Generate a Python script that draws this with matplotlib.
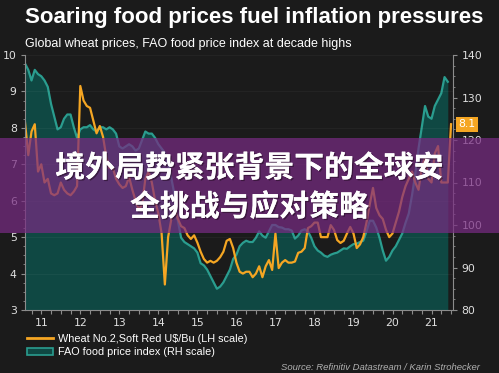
import matplotlib
matplotlib.use('Agg')
import matplotlib.pyplot as plt
import numpy as np
import pandas as pd
from matplotlib.patches import Rectangle, Patch
from matplotlib.lines import Line2D
import matplotlib.patheffects as pe
from matplotlib.ticker import MultipleLocator

# ---------------- data ----------------
fao_start = '2011-02-01'
wheat_start = '2011-02-01'

fao_index = [
    138, 136.5, 134, 136.5, 135.5, 135, 134, 132.5, 128.5, 125.5, 122.5,          # 2011 Feb-Dec
    123, 125, 126, 126, 123, 120.5, 122.5, 123, 123, 123.5, 122.5, 122,           # 2012
    123, 123, 122.5, 123, 122.5, 121.5, 118.5, 118, 118.5, 119, 118.5, 117.5,     # 2013
    118, 120, 122, 121.5, 121.5, 120.5, 119, 118, 117, 114.5, 111, 107,           # 2014
    101, 97, 96, 95.5, 95, 94.5, 93.5, 91, 90.5, 89.5, 88, 86.5,                  # 2015
    85, 85.5, 86.5, 88, 89.5, 92, 93, 95, 95.8, 96.3, 96, 96,                     # 2016
    97, 98.5, 97.5, 97, 98.5, 100, 100, 99.5, 99.4, 99, 99, 98.7,                 # 2017
    96.8, 97.5, 98.7, 99, 98.5, 97, 95, 94, 93.5, 92.8, 92.5, 93,                 # 2018
    93.3, 93.5, 94, 94.5, 94.4, 95, 95.5, 95.6, 96, 96.3, 98.5, 101,              # 2019
    101, 99.4, 97, 94, 91.6, 92.5, 94, 95, 96.5, 98, 100.5, 102.7,                # 2020
    107, 112, 118, 123, 128, 125.5, 125, 128, 129.5, 131, 134.8, 133.7,           # 2021
]

wheat_price = [
    8.15, 7.25, 7.9, 8.1, 6.8, 7.0, 6.5, 6.6, 6.2, 6.15, 6.2,                     # 2011 Feb-Dec
    6.5, 6.3, 6.2, 6.15, 6.25, 6.4, 9.15, 8.75, 8.6, 8.55, 8.2, 7.85,             # 2012
    8.05, 7.75, 7.2, 6.9, 6.9, 6.6, 6.45, 6.35, 6.4, 6.65, 6.3, 6.0,              # 2013
    5.75, 5.9, 6.6, 6.8, 6.5, 6.0, 5.65, 5.1, 3.7, 5.0, 5.5, 5.8,                 # 2014
    5.5, 5.3, 5.25, 5.05, 4.95, 5.05, 4.85, 4.6, 4.4, 4.3, 4.35, 4.3,             # 2015
    4.35, 4.45, 4.6, 4.9, 4.95, 4.7, 4.3, 4.05, 4.0, 4.05, 4.05, 3.9,             # 2016
    4.0, 4.2, 3.9, 4.2, 4.37, 4.1, 5.1, 4.15, 4.3, 4.37, 4.3, 4.3,                # 2017
    4.33, 4.57, 4.6, 4.7, 5.25, 5.3, 5.4, 5.4, 5.0, 5.0, 5.0, 5.33,               # 2018
    5.2, 4.92, 4.84, 4.9, 5.1, 5.28, 5.1, 4.7, 4.8, 5.0, 5.4, 5.9,                # 2019
    6.35, 5.8, 5.6, 5.5, 5.2, 5.0, 5.1, 5.4, 5.7, 6.1, 6.4, 6.6,                  # 2020
    6.8, 6.5, 6.3, 6.9, 7.2, 6.6, 6.5, 7.3, 7.5, 6.5, 6.5, 6.5,                   # 2021
    8.1,                                                                           # 2022 Jan
]

year_labels = ['11', '12', '13', '14', '15', '16', '17', '18', '19', '20', '21']
left_ticks = [3, 4, 5, 6, 7, 8, 9, 10]
right_ticks = [80, 90, 100, 110, 120, 130, 140]

title = 'Soaring food prices fuel inflation pressures'
subtitle = 'Global wheat prices, FAO food price index at decade highs'
legend_wheat = 'Wheat No.2,Soft Red U$/Bu (LH scale)'
legend_fao = 'FAO food price index (RH scale)'
source = 'Source: Refinitiv Datastream / Karin Strohecker'
overlay_lines = ['境外局势紧张背景下的全球安', '全挑战与应对策略']

# ---------------- helpers ----------------
def dec_year(dates):
    return np.array([d.year + (d.month - 1) / 12 for d in dates])

t_fao = dec_year(pd.date_range(fao_start, periods=len(fao_index), freq='MS'))
t_wheat = dec_year(pd.date_range(wheat_start, periods=len(wheat_price), freq='MS'))

BG = '#1b1b1b'
TEAL = '#2a9d8f'
TEAL_FILL = '#0f4843'
ORANGE = '#f5a623'
SPINE = '#8c8c8c'
TICKTXT = '#e0e0e0'

W, H = 499, 373
fig = plt.figure(figsize=(W / 100, H / 100), dpi=100, facecolor=BG)
ax = fig.add_axes([25 / W, 1 - 310 / H, 428 / W, 255 / H])
ax2 = ax.twinx()
ax.set_zorder(ax2.get_zorder() + 1)
ax.patch.set_visible(False)
ax2.set_facecolor(BG)

# FAO (right scale)
ax2.fill_between(t_fao, fao_index, 80, color=TEAL_FILL, lw=0)
ax2.plot(t_fao, fao_index, color=TEAL, lw=1.6)
ax2.set_ylim(80, 140)

# wheat (left scale)
ax.plot(t_wheat, wheat_price, color=ORANGE, lw=1.6)
ax.set_ylim(3, 10)
ax.set_xlim(2011.083, 2022.05)

# x ticks: quarterly marks, labels at mid-year
qpos = np.arange(2011.25, 2022.01, 0.25)
qlab = []
for p in qpos:
    if abs((p % 1) - 0.5) < 1e-6:
        qlab.append(year_labels[int(p) - 2011])
    else:
        qlab.append('')
ax.set_xticks(qpos, qlab)
ax.tick_params(axis='x', length=3, width=0.8, color=SPINE, labelcolor=TICKTXT,
               labelsize=7.8, pad=3)

ax.set_yticks(left_ticks, [str(v) for v in left_ticks])
ax.yaxis.set_minor_locator(MultipleLocator(0.25))
ax.tick_params(axis='y', which='major', length=3, width=0.8, color=SPINE,
               labelcolor=TICKTXT, labelsize=7.8, pad=3)
ax.tick_params(axis='y', which='minor', length=1.5, width=0.6, color=SPINE)

ax2.set_yticks(right_ticks, [str(v) for v in right_ticks])
ax2.yaxis.set_minor_locator(MultipleLocator(2.5))
ax2.tick_params(axis='y', which='major', length=3, width=0.8, color=SPINE,
                labelcolor=TICKTXT, labelsize=7.8, pad=3)
ax2.tick_params(axis='y', which='minor', length=1.5, width=0.6, color=SPINE)

for a in (ax, ax2):
    a.spines['top'].set_visible(False)
    for s in ('left', 'right', 'bottom'):
        a.spines[s].set_color(SPINE)
        a.spines[s].set_linewidth(0.8)
ax.spines['right'].set_visible(False)
ax2.spines['left'].set_visible(False)
ax2.spines['bottom'].set_visible(False)

ax.grid(axis='y', color='white', alpha=0.04, lw=0.8)
ax.set_axisbelow(True)

# last value tag
ax.annotate('8.1', xy=(1, wheat_price[-1]), xycoords=('axes fraction', 'data'),
            xytext=(4, 0), textcoords='offset points', ha='left', va='center',
            fontsize=7.8, color='white',
            bbox=dict(boxstyle='square,pad=0.25', fc=ORANGE, ec='none'))

# titles
fig.text(25 / W, 1 - 18 / H, title, color='white', fontsize=16,
         fontweight='bold', family='Liberation Sans', va='center', ha='left')
fig.text(25 / W, 1 - 44 / H, subtitle, color='white', fontsize=9,
         family='Liberation Sans', va='center', ha='left')

# legend
handles = [Line2D([], [], color=ORANGE, lw=2),
           Patch(facecolor=TEAL_FILL, edgecolor=TEAL, lw=1.2)]
leg = fig.legend(handles, [legend_wheat, legend_fao], loc='upper left',
                 bbox_to_anchor=(27 / W, 1 - 334 / H), frameon=False,
                 prop={'family': 'Liberation Sans', 'size': 7.8},
                 labelcolor='white', handlelength=2.4, handleheight=0.7,
                 handletextpad=0.5, labelspacing=0.32, borderpad=0, borderaxespad=0)

fig.text(480 / W, 1 - 367 / H, source, color='#b0b0b0', fontsize=6.8,
         style='italic', family='Liberation Sans', ha='right', va='center')

# overlay band with headline
fig.patches.append(Rectangle((0, 1 - 233 / H), 1, 95 / H, transform=fig.transFigure,
                             facecolor=(0.47, 0.17, 0.51), alpha=0.72, lw=0, zorder=5))
shadow = [pe.withSimplePatchShadow(offset=(1, -1), shadow_rgbFace=(0.15, 0.05, 0.15), alpha=0.6),
          pe.Normal()]
fig.text(0.5, 1 - 168 / H, overlay_lines[0], color='white', fontsize=21.5,
         fontweight='bold', family=['Noto Sans CJK SC', 'DejaVu Sans'],
         ha='center', va='center', zorder=6, path_effects=shadow)
fig.text(0.5, 1 - 207 / H, overlay_lines[1], color='white', fontsize=21.5,
         fontweight='bold', family=['Noto Sans CJK SC', 'DejaVu Sans'],
         ha='center', va='center', zorder=6, path_effects=shadow)

fig.savefig('out.png', dpi=100, facecolor=BG)
